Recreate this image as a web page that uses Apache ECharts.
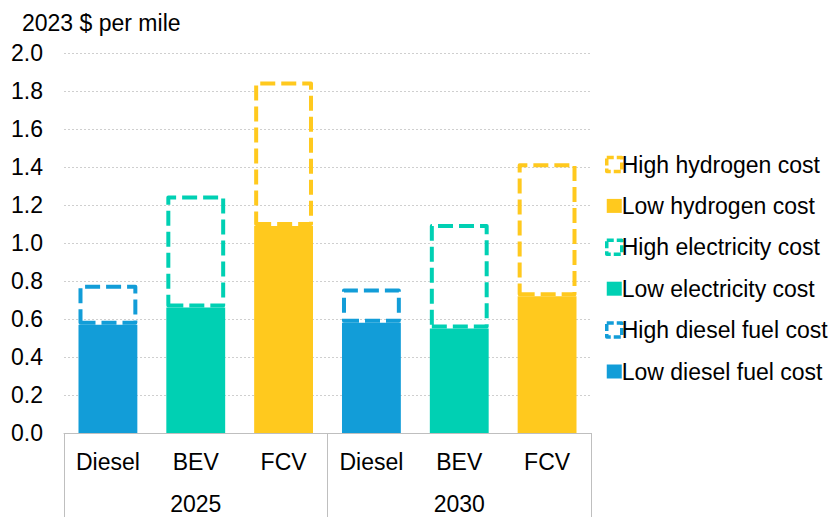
<!DOCTYPE html>
<html>
<head>
<meta charset="utf-8">
<script src="https://cdn.jsdelivr.net/npm/echarts@6/dist/echarts.min.js"></script>
<style>
  html, body { margin: 0; padding: 0; background: #ffffff; }
  #chart { width: 840px; height: 517px; }
</style>
</head>
<body>
<div id="chart"></div>
<script>
// Fuel cost per mile by powertrain, 2025 and 2030
const categories = ['Diesel', 'BEV', 'FCV', 'Diesel', 'BEV', 'FCV'];
const years = ['2025', '2030'];
const fuelOfCategory = ['diesel', 'electricity', 'hydrogen', 'diesel', 'electricity', 'hydrogen'];
const lowCost = [0.57, 0.66, 1.09, 0.58, 0.55, 0.72];
const highCost = [0.78, 1.25, 1.85, 0.76, 1.10, 1.42];
const yTicks = [0, 0.2, 0.4, 0.6, 0.8, 1.0, 1.2, 1.4, 1.6, 1.8, 2.0];

const fuels = [
  { key: 'diesel', low: 'Low diesel fuel cost', high: 'High diesel fuel cost', color: '#129DD8' },
  { key: 'electricity', low: 'Low electricity cost', high: 'High electricity cost', color: '#00D0B3' },
  { key: 'hydrogen', low: 'Low hydrogen cost', high: 'High hydrogen cost', color: '#FFC91E' }
];

const FONT = "'Liberation Sans', Arial, sans-serif";
const FS = 23;
const series = [];
fuels.forEach(f => {
  const lowData = lowCost.map((v, i) => fuelOfCategory[i] === f.key ? v : null);
  // upper band spans from the low cost to the high cost
  const rangeData = highCost.map((v, i) => fuelOfCategory[i] === f.key ? +(v - lowCost[i]).toFixed(3) : null);
  series.push({
    name: f.low, type: 'bar', stack: 'cost', barCategoryGap: '33%',
    itemStyle: { color: f.color },
    data: lowData
  });
  series.push({
    name: f.high, type: 'bar', stack: 'cost', barCategoryGap: '33%',
    itemStyle: {
      color: 'rgba(0,0,0,0)', borderColor: f.color, borderWidth: 4,
      borderType: [15, 6], borderJoin: 'round'
    },
    data: rangeData
  });
});

const legendOrder = [];
fuels.slice().reverse().forEach(f => {
  legendOrder.push({
    name: f.high, icon: 'rect',
    itemStyle: { color: 'rgba(0,0,0,0)', borderColor: f.color, borderWidth: 3.5, borderType: [7, 3] }
  });
  legendOrder.push({ name: f.low, icon: 'rect', itemStyle: { color: f.color, borderWidth: 0 } });
});

const chart = echarts.init(document.getElementById('chart'), null, { renderer: 'svg' });
chart.setOption({
  animation: false,
  backgroundColor: '#ffffff',
  textStyle: { fontFamily: FONT },
  title: {
    text: '2023 $ per mile', left: 17, top: 6,
    textStyle: { fontFamily: FONT, fontSize: FS, fontWeight: 'normal', color: '#000' }
  },
  legend: {
    orient: 'vertical', left: 600, top: 148,
    itemWidth: 15, itemHeight: 14, itemGap: 18.4,
    data: legendOrder,
    textStyle: { fontFamily: FONT, fontSize: FS, color: '#000', padding: [0, 0, 0, -5] }
  },
  grid: { left: 64, right: 249, top: 53, bottom: 84, containLabel: false },
  xAxis: [
    {
      type: 'category', data: categories, position: 'bottom',
      axisLine: { lineStyle: { color: '#bfbfbf', width: 1 } },
      axisTick: { show: false },
      axisLabel: { color: '#000', fontSize: FS, fontFamily: FONT, margin: 17, interval: 0 }
    },
    {
      type: 'category', data: years, position: 'bottom',
      axisLine: { show: false },
      axisTick: { show: true, length: 84, lineStyle: { color: '#bfbfbf', width: 1 } },
      axisLabel: { color: '#000', fontSize: FS, fontFamily: FONT, margin: 59 }
    }
  ],
  yAxis: {
    type: 'value', min: yTicks[0], max: yTicks[yTicks.length - 1], interval: 0.2,
    axisLine: { show: false }, axisTick: { show: false },
    axisLabel: { color: '#000', fontSize: FS, fontFamily: FONT, margin: 21, formatter: v => v.toFixed(1) },
    splitLine: { lineStyle: { color: '#cfcfcf', type: [2, 2], width: 1 } }
  },
  series: series
});
</script>
</body>
</html>
